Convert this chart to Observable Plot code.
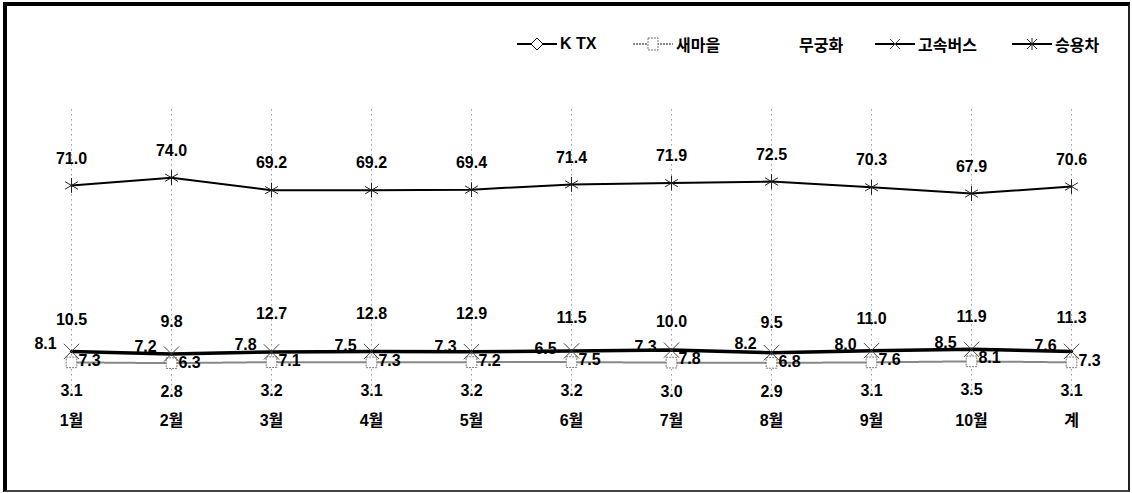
<!DOCTYPE html>
<html>
<head>
<meta charset="utf-8">
<script src="https://cdn.jsdelivr.net/npm/d3@7"></script>
<script src="https://cdn.jsdelivr.net/npm/@observablehq/plot@0.6"></script>
<style>
  html, body { margin: 0; padding: 0; background: #fff; }
  #wrap { position: relative; width: 1132px; height: 493px; overflow: hidden; font-family: "Liberation Sans", "Noto Sans CJK KR", sans-serif; }
  #frame { position: absolute; left: 3px; top: 2px; width: 1127px; height: 490px; box-sizing: border-box;
           border-left: 4px solid #000; border-top: 4px solid #000; border-right: 2px solid #222; border-bottom: 2px solid #444; pointer-events: none; }
  #legend { position: absolute; top: 32px; left: 0; width: 1132px; height: 24px; }
  .item { position: absolute; top: 0; height: 24px; display: flex; align-items: center; font-size: 16px; font-weight: bold; color: #000; }
  .item svg { margin-right: 3px; }
  #chart { position: absolute; left: 0; top: 60px; }
</style>
</head>
<body>
<div id="wrap">
  <div id="legend"></div>
  <div id="chart"></div>
  <div id="frame"></div>
</div>
<script>
const months = ["1월","2월","3월","4월","5월","6월","7월","8월","9월","10월","계"];
const seriesNames = ["K TX","새마을","무궁화","고속버스","승용차"];
const ktx       = [10.5, 9.8, 12.7, 12.8, 12.9, 11.5, 10.0, 9.5, 11.0, 11.9, 11.3];
const saemaeul  = [3.1, 2.8, 3.2, 3.1, 3.2, 3.2, 3.0, 2.9, 3.1, 3.5, 3.1];
const mugunghwa = [8.1, 7.2, 7.8, 7.5, 7.3, 6.5, 7.3, 8.2, 8.0, 8.5, 7.6];
const bus       = [7.3, 6.3, 7.1, 7.3, 7.2, 7.5, 7.8, 6.8, 7.6, 8.1, 7.3];
const car       = [71.0, 74.0, 69.2, 69.2, 69.4, 71.4, 71.9, 72.5, 70.3, 67.9, 70.6];

const ser = vals => months.map((m, i) => ({m, v: vals[i]}));
const fmt = d3.format(".1f");
const font = "'Liberation Sans', 'Noto Sans CJK KR', sans-serif";
const lbl = {x: "m", y: "v", text: d => fmt(d.v), fontSize: 16, fontWeight: "bold", fill: "#000", fontFamily: font};

const chart = Plot.plot({
  width: 1132,
  height: 433,
  marginTop: 49.4,
  marginBottom: 97,
  marginLeft: 0,
  marginRight: 0,
  style: {fontFamily: font, fontSize: "16px", fontWeight: "bold", background: "transparent", overflow: "visible", color: "#000"},
  x: {type: "point", domain: months, range: [69, 1073], padding: 0, tickSize: 0, tickPadding: 18, label: null},
  y: {domain: [-10, 100], axis: null},
  marks: [
    Plot.ruleX(months, {stroke: "#666", strokeDasharray: "1,4", strokeWidth: 1}),
    Plot.line(ser(saemaeul), {x: "m", y: "v", stroke: "#888", strokeWidth: 2, strokeDasharray: "2,1"}),
    Plot.dot(ser(saemaeul), {x: "m", y: "v", symbol: "square", r: 6, fill: "white", stroke: "#777", strokeWidth: 1, strokeDasharray: "2,1"}),
    Plot.line(ser(bus), {x: "m", y: "v", stroke: "#000", strokeWidth: 3.5}),
    Plot.dot(ser(bus), {x: "m", y: "v", symbol: "times", r: 7, stroke: "#444", strokeWidth: 1}),
    Plot.line(ser(car), {x: "m", y: "v", stroke: "#000", strokeWidth: 2}),
    Plot.dot(ser(car), {x: "m", y: "v", symbol: "asterisk", r: 7, stroke: "#222", strokeWidth: 1}),
    Plot.text(ser(car), {...lbl, dy: -27}),
    Plot.text(ser(ktx), {...lbl, dy: -23}),
    Plot.text(ser(saemaeul), {...lbl, dy: 29}),
    Plot.text(ser(mugunghwa), {...lbl, dx: -26, dy: -5}),
    Plot.text(ser(bus), {...lbl, dx: 18, dy: 9})
  ]
});
document.getElementById("chart").appendChild(chart);

// legend
const NS = "http://www.w3.org/2000/svg";
const legendLeft = [517, 633, 756, 875, 1012];
const legend = document.getElementById("legend");
seriesNames.forEach((name, i) => {
  const item = document.createElement("div");
  item.className = "item";
  item.style.left = legendLeft[i] + "px";
  const s = document.createElementNS(NS, "svg");
  s.setAttribute("width", 40); s.setAttribute("height", 24);
  let html = "";
  if (i === 0) {
    html = '<line x1="0" y1="12" x2="40" y2="12" stroke="#000" stroke-width="2"/>' +
           '<path d="M20,6 L26,12 L20,18 L14,12 Z" fill="#fff" stroke="#000" stroke-width="1"/>';
  } else if (i === 1) {
    html = '<line x1="0" y1="12" x2="40" y2="12" stroke="#888" stroke-width="2" stroke-dasharray="2,1"/>' +
           '<rect x="15" y="6" width="10" height="12" fill="#fff" stroke="#777" stroke-dasharray="2,1"/>';
  } else if (i === 3) {
    html = '<line x1="0" y1="12" x2="40" y2="12" stroke="#000" stroke-width="2"/>' +
           '<path d="M15,7 L25,17 M25,7 L15,17" stroke="#444" stroke-width="1"/>';
  } else if (i === 4) {
    html = '<line x1="0" y1="12" x2="40" y2="12" stroke="#000" stroke-width="2"/>' +
           '<path d="M15,7 L25,17 M25,7 L15,17 M20,6 L20,18" stroke="#222" stroke-width="1"/>';
  }
  s.innerHTML = html;
  item.appendChild(s);
  const t = document.createElement("span");
  t.textContent = name;
  item.appendChild(t);
  legend.appendChild(item);
});
</script>
</body>
</html>
